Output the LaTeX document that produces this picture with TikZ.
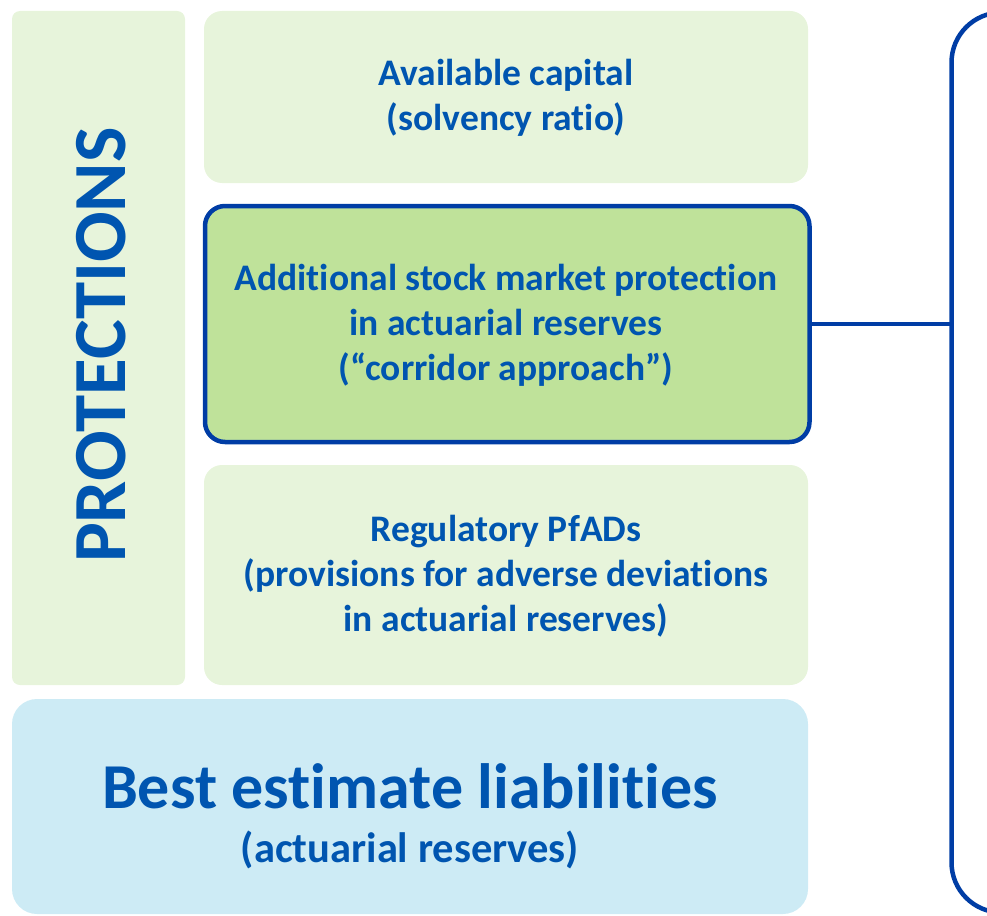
\documentclass[tikz,border=0pt]{standalone}
\usepackage{fontspec}
\setmainfont{Carlito}[Ligatures=NoCommon]
\definecolor{txtblue}{HTML}{0055B0}
\definecolor{lineblue}{HTML}{003DA5}
\definecolor{palegreen}{HTML}{E7F4DB}
\definecolor{midgreen}{HTML}{BFE29A}
\definecolor{paleblue}{HTML}{CDEBF5}
\tikzset{
  box/.style={rounded corners=18pt, fill=palegreen},
  lbl/.style={text=txtblue, font=\bfseries\fontsize{37.5}{45}\selectfont, align=center},
  bluelink/.style={line width=4.5pt, draw=lineblue},
}
\begin{document}
\begin{tikzpicture}[x=1pt,y=-1pt]
\useasboundingbox (0,0) rectangle (987,915);
% left column
\fill[palegreen, rounded corners=8pt] (12,11) rectangle (185,685);
\node[rotate=90, text=txtblue, font=\bfseries\fontsize{75}{80}\selectfont] (prot) at (101,345) {PROTECTIONS};
% top box
\fill[box] (204,11) rectangle (808,183);
\node[lbl] (avail) at (506,98) {Available capital\\(solvency ratio)};
% middle box
\draw[bluelink, fill=midgreen, rounded corners=20pt] (205,206) rectangle (809.5,442);
\node[lbl] (mid) at (506,325) {Additional stock market protection\\in actuarial reserves\\(“corridor approach”)};
\coordinate (midE) at (811,324);
% lower green box
\fill[box] (204,465) rectangle (808,685);
\node[lbl] (pfad) at (506,576) {Regulatory PfADs\\(provisions for adverse deviations\\in actuarial reserves)};
% blue box
\fill[paleblue, rounded corners=25pt] (12,699) rectangle (808,914);
\node[text=txtblue, font=\bfseries\fontsize{64}{70}\selectfont] (best) at (410,786) {Best estimate liabilities};
\node[text=txtblue, font=\bfseries\fontsize{42.5}{48}\selectfont] (act) at (410,850) {(actuarial reserves)};
% bracket
\coordinate (bT) at (1000,12.5);
\coordinate (bB) at (1000,912.5);
\coordinate (bJ) at (951.5,324);
\draw[bluelink, rounded corners=50pt] (bT) -- (951.5,12.5) -- (951.5,912.5) -- (bB);
\draw[bluelink] (midE) -- (bJ);
\end{tikzpicture}
\end{document}
